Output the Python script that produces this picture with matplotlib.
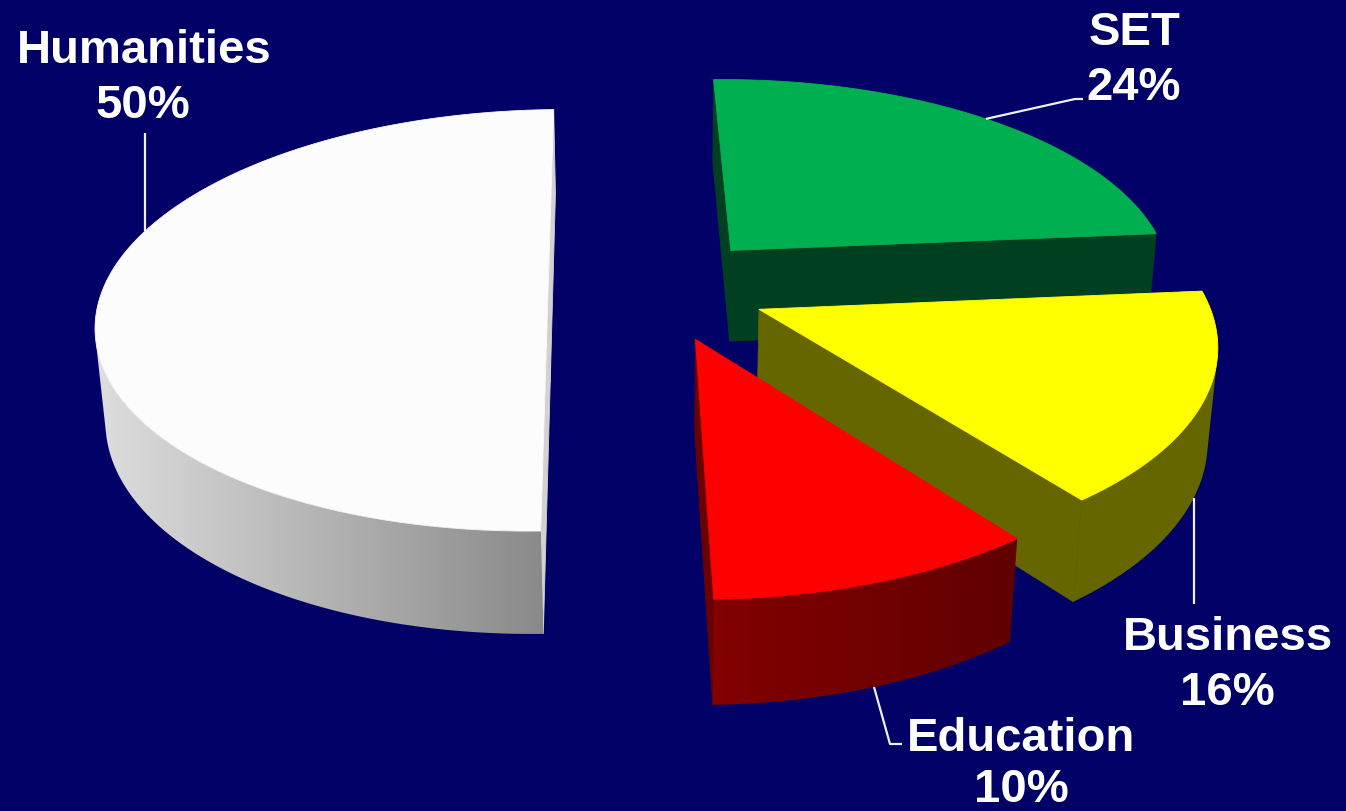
import numpy as np
import matplotlib
matplotlib.use('Agg')
import matplotlib.pyplot as plt
from matplotlib.colors import to_rgb
from matplotlib.patches import Polygon

# data, clockwise from 12 o'clock
categories = ['SET', 'Business', 'Education', 'Humanities']
shares = [24, 16, 10, 50]
pct_labels = ['24%', '16%', '10%', '50%']

# look of the 3D pie (camera fitted to the original picture)
CX, CY, FOCAL, DIST, ELEV = 666.42, 289.46, 2718.2, 6.1076, 0.4811
THICK, ROT, CAM_X = 0.2385, 0.0243, 0.021
EXPLODE = [0.2543, 0.2470, 0.2525, 0.2446]
BG = '#000066'
top_col = ['#00AF50', '#FFFF00', '#FF0000', '#FCFCFC']
side_col = [('#004020', '#004020'), ('#666600', '#666600'),
            ('#820000', '#600000'), ('#DEDEDE', '#8A8A8A')]
cut_col = ['#004020', '#666600', '#6A0000', '#D2D2D2']

share = np.array(shares, float)
a_hi = 90 - np.concatenate([[0], np.cumsum(share)[:-1]]) / share.sum() * 360
a_lo = a_hi - share / share.sum() * 360
cam = np.array([CAM_X, -DIST * np.cos(ELEV), DIST * np.sin(ELEV)])


def offset(i):
    mid = np.radians((a_hi[i] + a_lo[i]) / 2) + ROT
    return EXPLODE[i] * np.cos(mid), EXPLODE[i] * np.sin(mid)


def arc(i, deg, z):
    ox, oy = offset(i)
    t = np.radians(np.atleast_1d(deg)) + ROT
    return np.column_stack([ox + np.cos(t), oy + np.sin(t), np.full(t.shape, z)])


def uv(pts):
    pts = np.atleast_2d(pts)
    X, Y, Z = pts[:, 0], pts[:, 1], pts[:, 2]
    depth = DIST + Y * np.cos(ELEV) - Z * np.sin(ELEV)
    up = Y * np.sin(ELEV) + Z * np.cos(ELEV)
    return np.column_stack([CX + FOCAL * (X - CAM_X) / depth, CY - FOCAL * up / depth])


fig = plt.figure(figsize=(13.46, 8.12), dpi=100)
fig.patch.set_facecolor(BG)
ax = fig.add_axes([0, 0, 1, 1])
ax.set_facecolor(BG)

# far slices first
order = sorted(range(len(shares)), key=lambda i: -offset(i)[1])
z = 1
for i in order:
    ox, oy = offset(i)
    th = np.linspace(a_lo[i], a_hi[i], 241)
    t = np.radians(th) + ROT
    topw, botw = arc(i, th, 0.0), arc(i, th, -THICK)
    apex_t, apex_b = np.array([ox, oy, 0.0]), np.array([ox, oy, -THICK])

    # flat cut faces, only those turned to the camera
    for end, nvec in ((0, np.array([np.sin(t[0]), -np.cos(t[0]), 0])),
                      (-1, np.array([-np.sin(t[-1]), np.cos(t[-1]), 0]))):
        if nvec @ (cam - apex_t) > 0:
            quad = uv([apex_t, topw[end], botw[end], apex_b])
            ax.add_patch(Polygon(quad, closed=True, fc=cut_col[i], ec=cut_col[i],
                                 lw=0.6, zorder=z))
            z += 1

    # visible part of the outer wall, filled with a gradient
    tm = (t[:-1] + t[1:]) / 2
    pm = np.column_stack([ox + np.cos(tm), oy + np.sin(tm), np.zeros_like(tm)])
    nm = np.column_stack([np.cos(tm), np.sin(tm), np.zeros_like(tm)])
    vis = np.where(np.sum(nm * (cam - pm), axis=1) > 0)[0]
    if len(vis):
        j0, j1 = vis.min(), vis.max() + 1
        wall = uv(np.vstack([topw[j0:j1 + 1], botw[j0:j1 + 1][::-1]]))
        patch = Polygon(wall, closed=True, fc='none', ec='none', zorder=z)
        ax.add_patch(patch)
        c0, c1 = np.array(to_rgb(side_col[i][0])), np.array(to_rgb(side_col[i][1]))
        img = c0 + (c1 - c0) * np.linspace(0, 1, 256)[None, :, None]
        im = ax.imshow(img, extent=[wall[:, 0].min(), wall[:, 0].max(),
                                    wall[:, 1].max(), wall[:, 1].min()],
                       aspect='auto', zorder=z, interpolation='bilinear')
        im.set_clip_path(patch)
        z += 1

    topf = uv(np.vstack([apex_t, topw]))
    ax.add_patch(Polygon(topf, closed=True, fc=top_col[i], ec=top_col[i], lw=0.6, zorder=z))
    z += 1

# labels with leader lines
lab_font = dict(color='white', fontsize=34, fontweight='bold',
                family=['Liberation Sans', 'DejaVu Sans'], ha='center', va='baseline')
name_pos = [(1135, 45), (1228, 650), (1021, 751), (144, 63)]
pct_pos = [(1134, 100), (1227, 705), (1021, 802), (143, 118)]
lead_ang = [46.8, -25.2, -72.0, 161.5]
lead_z = [0.0, -THICK, -THICK, 0.0]
lw = dict(color='#F0F0F0', lw=1.6, zorder=50, solid_capstyle='butt')

for i in range(len(categories)):
    ax.text(*name_pos[i], categories[i], zorder=60, **lab_font)
    ax.text(*pct_pos[i], pct_labels[i], zorder=60, **lab_font)
    sx, sy = uv(arc(i, lead_ang[i], lead_z[i]))[0]
    if categories[i] == 'SET':
        ax.plot([sx, 1075, 1083], [sy, 100, 100], **lw)
    elif categories[i] == 'Business':
        ax.plot([sx, sx], [sy, 605], **lw)
    elif categories[i] == 'Education':
        ax.plot([sx, 890, 902], [sy, 745, 745], **lw)
    else:
        ax.plot([sx, sx], [sy, 134], **lw)

ax.set_xlim(0, 1346)
ax.set_ylim(812, 0)
ax.axis('off')

plt.savefig('out.png', dpi=100, facecolor=fig.get_facecolor())
